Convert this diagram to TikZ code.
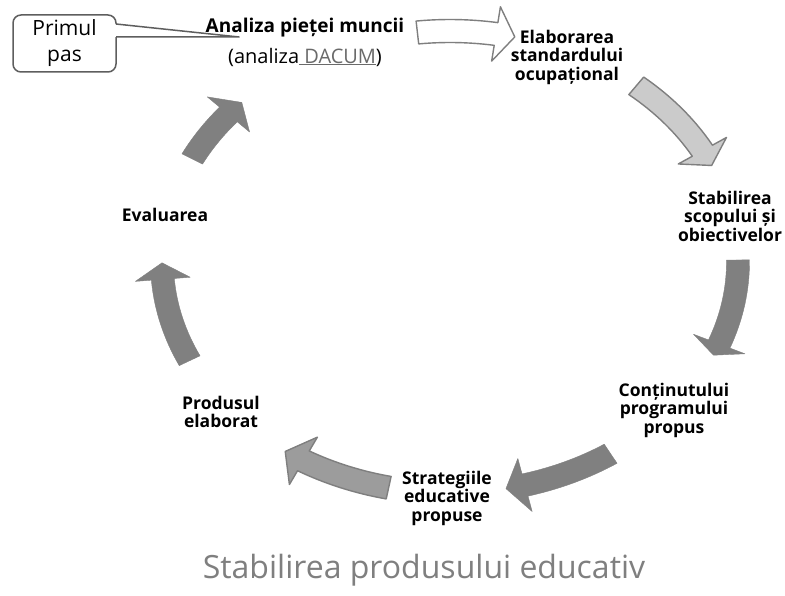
\documentclass[tikz,border=0pt]{standalone}
\usepackage{fontspec}
\setmainfont{Open Sans}
\usetikzlibrary{calc}

\definecolor{arrowline}{HTML}{7F7F7F}
\definecolor{arrowdark}{HTML}{808080}
\definecolor{arrowmid}{HTML}{9C9C9C}
\definecolor{arrowlight}{HTML}{CBCBCB}
\definecolor{captiongray}{HTML}{7F7F7F}
\definecolor{linkgray}{HTML}{6A6A6A}
\definecolor{calloutline}{HTML}{5E5E5E}

% cycle ellipse radii, shaft and head half-widths (in pt)
\newcommand\ellrx{288}
\newcommand\ellry{231}
\newcommand\shaftw{11.5}
\newcommand\headw{27.5}

% curved block arrow along the cycle ellipse:
% #1 style, #2 tail angle, #3 head-base angle, #4 tip angle
\newcommand\cyclearrow[4]{%
  \filldraw[#1]
    ($(ctr)+({(\ellrx+\shaftw)*cos(#2)},{(\ellry+\shaftw)*sin(#2)})$)
    arc[start angle=#2, end angle=#3, x radius=\ellrx+\shaftw, y radius=\ellry+\shaftw]
    -- ($(ctr)+({(\ellrx+\headw)*cos(#3)},{(\ellry+\headw)*sin(#3)})$)
    -- ($(ctr)+({\ellrx*cos(#4)},{\ellry*sin(#4)})$)
    -- ($(ctr)+({(\ellrx-\headw)*cos(#3)},{(\ellry-\headw)*sin(#3)})$)
    -- ($(ctr)+({(\ellrx-\shaftw)*cos(#3)},{(\ellry-\shaftw)*sin(#3)})$)
    arc[start angle=#3, end angle=#2, x radius=\ellrx-\shaftw, y radius=\ellry-\shaftw]
    -- cycle;}

\tikzset{
  lbl/.style={font=\bfseries\fontsize{17.5}{18.5}\selectfont, align=center, inner sep=0pt},
  plain/.style={font=\fontsize{20}{22}\selectfont, inner sep=0pt},
  whitearrow/.style={fill=white, draw=arrowline, line width=1.4pt, line join=round},
  lightarrow/.style={fill=arrowlight, draw=arrowline, line width=1.4pt, line join=round},
  midarrow/.style={fill=arrowmid, draw=arrowline, line width=1.4pt, line join=round},
  darkarrow/.style={fill=arrowdark, draw=arrowdark, line width=0.4pt, line join=round},
}

\begin{document}
\begin{tikzpicture}[x=1pt, y=1pt]
  \useasboundingbox (0,0) rectangle (785,-596);
  \fill[white] (0,0) rectangle (785,-596);

  \coordinate (ctr) at (450,-262);

  % the seven arrows of the cycle
  \cyclearrow{whitearrow}{96.5}{80.8}{77}
  \cyclearrow{lightarrow}{49.7}{28.8}{24.7}
  \cyclearrow{darkarrow}{0.5}{-20.8}{-23.8}
  \cyclearrow{darkarrow}{-56.1}{-74.9}{-78.8}
  \cyclearrow{midarrow}{-102.3}{-120.6}{-124.9}
  \cyclearrow{darkarrow}{205.3}{184.3}{180.2}
  \cyclearrow{darkarrow}{153.5}{140.3}{136.3}

  % callout box with its pointer
  \node[draw=calloutline, line width=1.5pt, rounded corners=8pt, fill=white,
        minimum width=103pt, minimum height=57pt, align=center,
        font=\fontsize{21}{26}\selectfont] (callout) at (64.5,-43.5) {Primul\\pas};
  \coordinate (wedgeTop) at (116,-24);
  \coordinate (wedgeBot) at (116,-37);
  \coordinate (calloutTip) at (239,-37);
  \fill[white] (114.5,-24) -- (calloutTip) -- (114.5,-37) -- cycle;
  \draw[calloutline, line width=1.5pt, line join=round] (wedgeTop) -- (calloutTip) -- (wedgeBot);

  % stage labels
  \node[lbl, font=\bfseries\fontsize{19}{20}\selectfont] (analiza) at (305,-28) {Analiza pieței muncii};
  \node[plain] (dacum) at (305,-57) {(analiza\textcolor{linkgray}{\underline{\ DACUM}})};
  \node[lbl] (elaborare) at (567,-57) {Elaborarea\\standardului\\ocupațional};
  \node[lbl] (scop) at (730,-216) {Stabilirea\\scopului și\\obiectivelor};
  \node[lbl] (continut) at (674,-410) {Conținutului\\programului\\propus};
  \node[lbl] (strategii) at (447,-498) {Strategiile\\educative\\propuse};
  \node[lbl] (produs) at (221,-412) {Produsul\\elaborat};
  \node[lbl] (evaluare) at (165,-215) {Evaluarea};

  % caption
  \node[font=\fontsize{32}{38}\selectfont, text=captiongray, inner sep=0pt] (caption)
    at (424,-570) {Stabilirea produsului educativ};
\end{tikzpicture}
\end{document}
